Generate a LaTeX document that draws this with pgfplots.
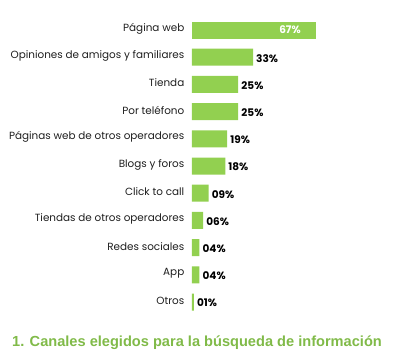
\documentclass[border=0pt]{standalone}
\usepackage{pgfplots}
\pgfplotsset{compat=1.18}
\usepackage{fontspec}
\setmainfont{Poppins}
\newfontfamily\titlefont{Liberation Sans}
\definecolor{bargreen}{RGB}{146,208,80}
\definecolor{titlegreen}{RGB}{128,186,72}
\definecolor{labelgray}{RGB}{30,30,30}
\begin{document}
\begin{tikzpicture}
\useasboundingbox (-192pt,-46.4pt) rectangle (208pt,315.6pt);
\begin{axis}[
  at={(0pt,0pt)}, anchor=south west,
  scale only axis, width=185pt, height=299.2pt,
  xmin=0, xmax=100, ymin=-0.5, ymax=10.5, y dir=reverse,
  axis line style={draw=none},
  xtick=\empty,
  ytick={0,...,10},
  yticklabels={Página web, Opiniones de amigos y familiares, Tienda, Por teléfono, Páginas web de otros operadores, Blogs y foros, Click to call, Tiendas de otros operadores, Redes sociales, App, Otros},
  y tick label style={font=\fontsize{10.4}{11}\selectfont, text=labelgray, inner sep=0pt, xshift=-7.5pt, yshift=1.5pt},
  major tick length=0pt,
  xbar, bar width=17pt, bar shift=0pt,
  clip=false,
]
\addplot[fill=bargreen, draw=none, point meta=explicit symbolic,
  nodes near coords={\pgfplotspointmeta\%},
  nodes near coords style={anchor=west, font=\bfseries\fontsize{10.5}{11}\selectfont, text=black, inner sep=3pt, yshift=-1pt}]
  table[x=v, y=i, meta=l]{
i v l
1 33 33
2 25 25
3 25 25
4 19 19
5 18 18
6 9 09
7 6 06
8 4 04
9 4 04
10 1 01
};
\addplot[fill=bargreen, draw=none, point meta=explicit symbolic,
  nodes near coords={\pgfplotspointmeta\%},
  nodes near coords style={anchor=east, font=\bfseries\fontsize{10.5}{11}\selectfont, text=white, inner sep=0pt, xshift=-15pt}]
  table[x=v, y=i, meta=l]{
i v l
0 67 67
};
\end{axis}
\node[font=\titlefont\bfseries\fontsize{14.6}{16}\selectfont, text=titlegreen] at (5pt,-27.4pt) {1. Canales elegidos para la búsqueda de información};
\end{tikzpicture}
\end{document}
